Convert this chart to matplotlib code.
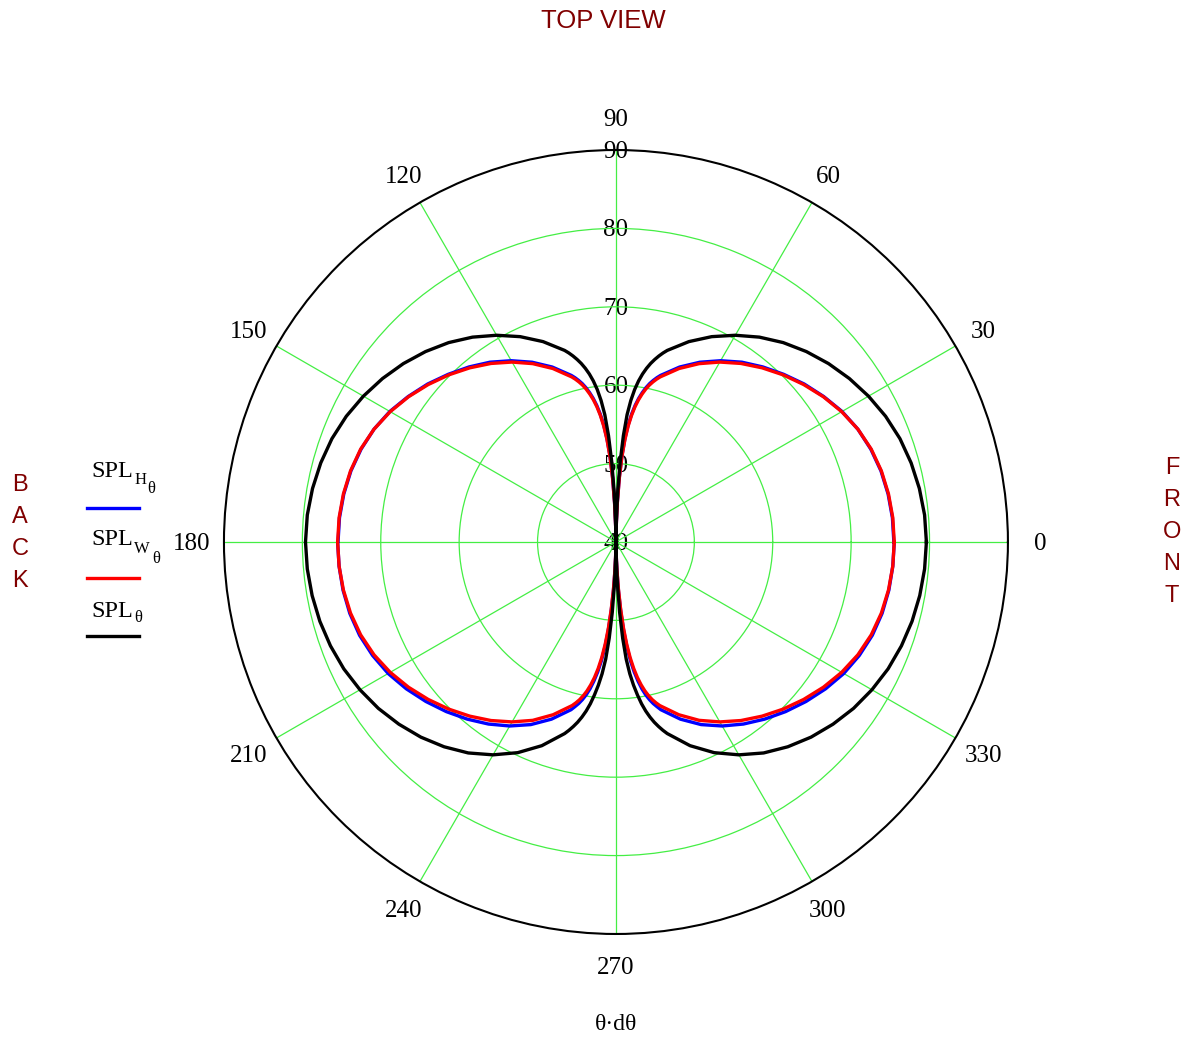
import numpy as np
import matplotlib
matplotlib.use('Agg')
import matplotlib.pyplot as plt
from matplotlib.transforms import offset_copy

# angles (deg) of one quadrant; the left lobe mirrors the right one
ang = [0, 5, 10, 15, 20, 25, 30, 35, 40, 45, 50, 55, 60, 65, 70, 75,
       76, 77, 78, 79, 80, 81, 82, 83, 84, 85, 86, 87, 88, 89, 90]

# SPL_theta (black): upper half (0..90) and lower half (0..-90)
spl_top = [79.6, 79.52, 79.3, 78.98, 78.55, 77.95, 77.2, 76.35, 75.4, 74.35, 73.2, 71.9,
           70.45, 68.9, 67.2, 65.3, 64.85, 64.35, 63.8, 63.2, 62.5, 61.7, 60.75, 59.6,
           58.15, 56.3, 53.6, 50.2, 46.3, 42.6, 40.0]
spl_bot = [79.6, 79.52, 79.35, 79.1, 78.75, 78.3, 77.7, 77.0, 76.15, 75.2, 74.1, 72.85,
           71.35, 69.65, 67.65, 65.3, 64.75, 64.15, 63.5, 62.75, 61.9, 60.9, 59.7, 58.4,
           56.9, 55.0, 52.3, 49.0, 45.3, 42.0, 40.0]

# SPL_W (red)
splw_top = [75.5, 75.45, 75.3, 75.05, 74.65, 74.05, 73.25, 72.3, 71.25, 70.15, 69.0, 67.8,
            66.5, 65.1, 63.55, 61.8, 61.4, 60.95, 60.45, 59.85, 59.15, 58.35, 57.4, 56.25,
            54.85, 53.1, 50.9, 48.1, 44.9, 41.9, 40.0]
splw_bot = [75.5, 75.45, 75.3, 75.05, 74.65, 74.05, 73.25, 72.3, 71.25, 70.15, 69.0, 67.8,
            66.5, 65.1, 63.45, 61.6, 61.15, 60.65, 60.05, 59.35, 58.5, 57.5, 56.3, 54.85,
            53.1, 51.0, 48.6, 46.0, 43.5, 41.4, 40.0]

# SPL_H (blue)
splh_top = [75.45, 75.4, 75.25, 75.0, 74.6, 74.05, 73.3, 72.35, 71.35, 70.25, 69.15, 68.0,
            66.7, 65.3, 63.75, 62.0, 61.6, 61.15, 60.65, 60.05, 59.35, 58.55, 57.6, 56.45,
            55.05, 53.3, 51.1, 48.3, 45.05, 42.0, 40.0]
splh_bot = [75.5, 75.45, 75.35, 75.15, 74.8, 74.25, 73.55, 72.65, 71.65, 70.6, 69.5, 68.35,
            67.1, 65.7, 64.05, 62.15, 61.65, 61.15, 60.55, 59.85, 59.0, 57.95, 56.75, 55.3,
            53.5, 51.4, 48.95, 46.3, 43.7, 41.5, 40.0]


def full_curve(top, bot):
    th = (ang + [180 - a for a in ang[::-1]] +
          [180 + a for a in ang] + [360 - a for a in ang[::-1]])
    r = top + top[::-1] + bot + bot[::-1]
    return np.deg2rad(th), np.array(r)


fig = plt.figure(figsize=(11.9, 10.38), dpi=100)
ax = fig.add_axes([0.1882, 0.1002, 0.6588, 0.7553], projection='polar')
ax.set_rlim(40, 90)
ax.set_rgrids([50, 60, 70, 80], labels=[])
ax.set_thetagrids(np.arange(0, 360, 30), labels=[])
ax.grid(True, color='#44ee44', lw=0.9)
ax.tick_params(length=0)
ax.spines['polar'].set_color('black')
ax.spines['polar'].set_linewidth(1.5)

for top, bot, col in [(splh_top, splh_bot, '#0000ff'),
                      (splw_top, splw_bot, '#ff0000'),
                      (spl_top, spl_bot, 'black')]:
    th, r = full_curve(top, bot)
    ax.plot(th, r, color=col, lw=2.4, zorder=5, clip_on=False,
            solid_joinstyle='round')

serif = 'Liberation Serif'
sans = 'Liberation Sans'
darkred = '#800000'

lab_tr = offset_copy(ax.transData, fig=fig, x=0, y=-2, units='dots')
# angle labels
for a in range(0, 360, 30):
    ax.text(np.deg2rad(a), 94.08, str(a), ha='center', va='center',
            fontsize=18, family=serif, zorder=1, transform=lab_tr)
# radial labels
for v in [40, 50, 60, 70, 80, 90]:
    ax.text(np.pi / 2, v, str(v), ha='center', va='center',
            fontsize=18, family=serif, zorder=1, transform=lab_tr)

fig.text(603 / 1190, 1 - 28.3 / 1038, 'TOP VIEW', ha='center', va='baseline',
         fontsize=18.5, family=sans, color=darkred)
fig.text(616 / 1190, 1 - 1024 / 1038, 'θ·dθ', ha='center', va='center',
         fontsize=17, family=serif)

for i, ch in enumerate('FRONT'):
    fig.text(1172 / 1190, 1 - (468 + 32 * i) / 1038, ch, ha='center', va='center',
             fontsize=17, family=sans, color=darkred)
for i, ch in enumerate('BACK'):
    fig.text(20 / 1190, 1 - (485 + 32 * i) / 1038, ch, ha='center', va='center',
             fontsize=17, family=sans, color=darkred)


def ftext(x, y, s, size):
    fig.text(x / 1190, 1 - y / 1038, s, ha='left', va='baseline',
             fontsize=size, family=serif)


# legend: SPL with nested subscripts, and a short line under each entry
ftext(91.5, 476.7, 'SPL', 17.5)
ftext(134.5, 483.5, 'H', 12)
ftext(147.5, 493, 'θ', 12)
ftext(91.5, 545, 'SPL', 17.5)
ftext(133.5, 553.3, 'W', 12)
ftext(152.5, 563, 'θ', 12)
ftext(91.5, 616.7, 'SPL', 17.5)
ftext(134.5, 621.5, 'θ', 12)

for yline, col in [(507.7, '#0000ff'), (577.7, '#ff0000'), (635.7, 'black')]:
    fig.add_artist(plt.Line2D([87 / 1190, 139 / 1190], [1 - yline / 1038] * 2,
                              color=col, lw=2.4, transform=fig.transFigure))

fig.savefig('out.png', dpi=100)
